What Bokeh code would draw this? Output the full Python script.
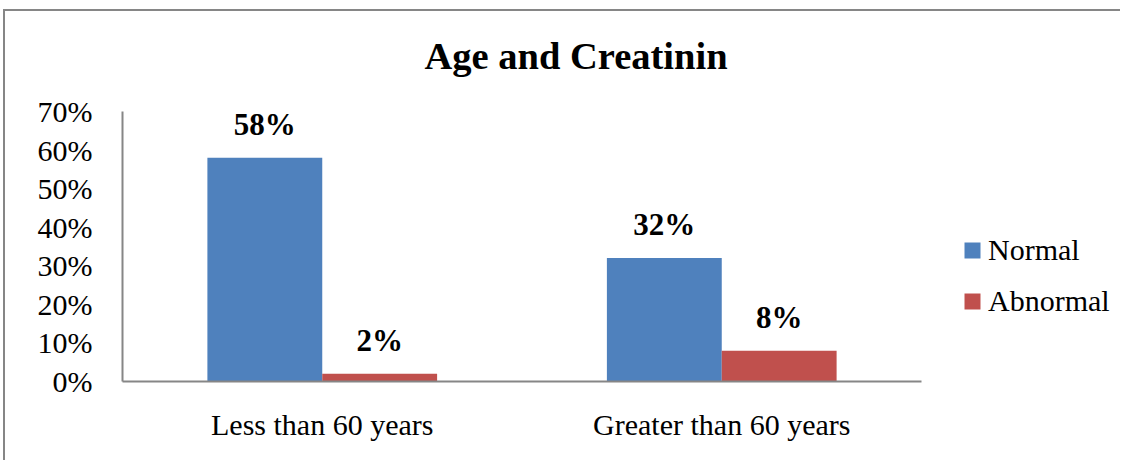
from bokeh.plotting import figure
from bokeh.models import (Range1d, ColumnDataSource, LabelSet, Legend,
                          LegendItem, FixedTicker, NumeralTickFormatter)
from bokeh.transform import dodge
from bokeh.embed import file_html
from bokeh.resources import INLINE
from bokeh.core.properties import value

# ---- data ----
categories = ["Less than 60 years", "Greater than 60 years"]
series = ["Normal", "Abnormal"]
normal = [0.58, 0.32]
abnormal = [0.02, 0.08]
normal_labels = ["58%", "32%"]
abnormal_labels = ["2%", "8%"]
y_ticks = [0.0, 0.1, 0.2, 0.3, 0.4, 0.5, 0.6, 0.7]
title_text = "Age and Creatinin"

FONT = "Liberation Serif"
BLUE = "#4F81BD"
RED = "#C0504D"
GRAY = "#868686"

n = len(categories)
xpos = [i + 0.5 for i in range(n)]
src = ColumnDataSource(dict(x=xpos, cat=categories, normal=normal, abnormal=abnormal,
                            nl=normal_labels, al=abnormal_labels))

CW, CH = 1120, 460
ML, MT = 122, 111
MB = CH - 381
cat_px = 399.5
x_end = (CW - ML) / cat_px

p = figure(x_range=Range1d(0, x_end), y_range=Range1d(0, 0.7),
           width=CW, height=CH, output_backend="svg", toolbar_location=None,
           min_border_left=ML, min_border_right=0, min_border_top=MT,
           min_border_bottom=MB, title=title_text)
p.border_fill_alpha = 0
p.background_fill_color = "white"
p.styles = {"background-color": "white",
            "box-shadow": f"inset 3px 9px 0 0 white, inset 5px 11px 0 0 {GRAY}"}

p.title.text_font = FONT
p.title.text_font_size = "38.5px"
p.title.text_font_style = "bold"
p.title.align = "left"
p.title.offset = 302
p.title.vertical_align = "top"
p.title.standoff = 66
p.title.text_color = "black"

w = 0.2875
r1 = p.vbar(x=dodge("x", -w / 2), top="normal", width=w,
            source=src, fill_color=BLUE, line_color=None)
r2 = p.vbar(x=dodge("x", w / 2), top="abnormal", width=w,
            source=src, fill_color=RED, line_color=None)

for xo, fld, lbl in [(-w / 2, "normal", "nl"), (w / 2, "abnormal", "al")]:
    ls = LabelSet(x=dodge("x", xo), y=fld, text=lbl, source=src,
                  y_offset=23, text_align="center", text_baseline="alphabetic",
                  text_font=value(FONT), text_font_style="bold", text_font_size="31px",
                  text_color="black")
    p.add_layout(ls)

for ax in (p.xaxis[0], p.yaxis[0]):
    ax.major_tick_out = 0
    ax.major_tick_in = 0
    ax.minor_tick_out = 0
    ax.minor_tick_in = 0
    ax.axis_line_color = GRAY
    ax.axis_line_width = 2
    ax.major_label_text_font = FONT
    ax.major_label_text_font_size = "30px"
    ax.major_label_text_color = "black"

p.xaxis.bounds = (0, n)
p.xaxis.ticker = FixedTicker(ticks=xpos)
p.xaxis.major_label_overrides = {x: c for x, c in zip(xpos, categories)}
p.yaxis.ticker = FixedTicker(ticks=y_ticks)
p.yaxis.formatter = NumeralTickFormatter(format="0%")
p.yaxis.major_label_standoff = 30
p.xaxis.major_label_standoff = 26

p.xgrid.grid_line_color = None
p.ygrid.grid_line_color = None
p.outline_line_color = None

legend = Legend(items=[LegendItem(label=series[0], renderers=[r1]),
                       LegendItem(label=series[1], renderers=[r2])],
                location=(840, 63), glyph_width=20, glyph_height=20,
                label_standoff=6, label_height=30, spacing=17, padding=0, margin=0,
                border_line_color=None, background_fill_alpha=0,
                label_text_font=FONT, label_text_font_size="30px",
                label_text_color="black")
p.add_layout(legend)

open("out.html", "w").write(file_html(p, INLINE))
